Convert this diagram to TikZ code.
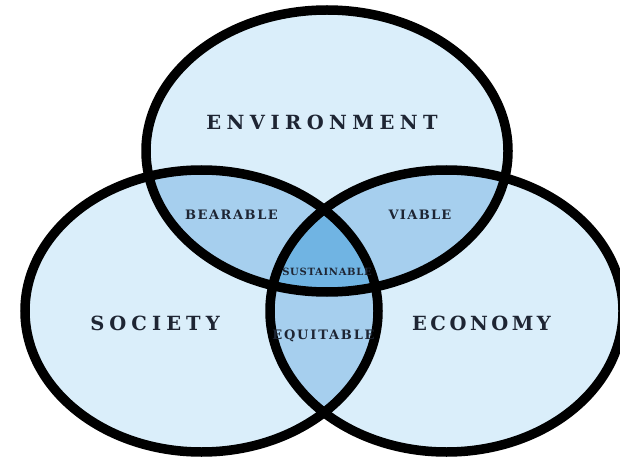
\documentclass[tikz,border=0pt]{standalone}
\usepackage{fontspec}
\setmainfont{DejaVu Serif}
\definecolor{fillA}{HTML}{DAEEFA}
\definecolor{fillB}{HTML}{A6CFEE}
\definecolor{fillC}{HTML}{70B4E3}
\definecolor{ink}{HTML}{1E2533}
\def\envpath{(327,151) ellipse [x radius=181pt, y radius=141pt]}
\def\socpath{(201.5,311) ellipse [x radius=176.5pt, y radius=141pt]}
\def\ecopath{(446.5,311) ellipse [x radius=176.5pt, y radius=141pt]}
\tikzset{
  ring/.style={draw=black, line width=9.5pt},
  biglabel/.style={text=ink, inner sep=0pt, font=\bfseries\fontsize{19.5}{19.5}\selectfont},
  midlabel/.style={text=ink, inner sep=0pt, font=\bfseries\fontsize{13}{13}\selectfont},
  smalllabel/.style={text=ink, inner sep=0pt, font=\bfseries\fontsize{10}{10}\selectfont}
}
\begin{document}
\begin{tikzpicture}[x=1pt,y=-1pt]
\useasboundingbox[fill=white] (0,0) rectangle (620,462);
\fill[fillA] \envpath;
\fill[fillA] \socpath;
\fill[fillA] \ecopath;
\begin{scope}
  \clip \envpath;
  \fill[fillB] \socpath;
  \fill[fillB] \ecopath;
\end{scope}
\begin{scope}
  \clip \socpath;
  \fill[fillB] \ecopath;
\end{scope}
\begin{scope}
  \clip \envpath;
  \clip \socpath;
  \fill[fillC] \ecopath;
\end{scope}
\draw[ring] \envpath;
\draw[ring] \socpath;
\draw[ring] \ecopath;
\node[biglabel] (env) at (322,122) {\addfontfeature{LetterSpace=28}ENVIRONMENT};
\node[biglabel] (soc) at (155,323) {\addfontfeature{LetterSpace=26}SOCIETY};
\node[biglabel] (eco) at (481.5,323) {\addfontfeature{LetterSpace=18}ECONOMY};
\node[midlabel] (bear) at (231.5,215) {\addfontfeature{LetterSpace=12}BEARABLE};
\node[midlabel] (viab) at (420,215) {\addfontfeature{LetterSpace=10}VIABLE};
\node[midlabel] (equi) at (323.5,336) {\addfontfeature{LetterSpace=14}EQUITABLE};
\node[smalllabel] (sust) at (327,272) {\addfontfeature{LetterSpace=7}SUSTAINABLE};
\end{tikzpicture}
\end{document}
